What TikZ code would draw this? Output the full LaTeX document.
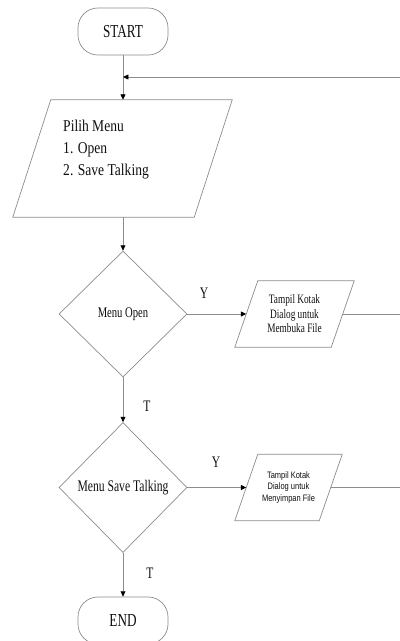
\documentclass[tikz,border=0pt]{standalone}
\usepackage{fontspec}
\setmainfont{Liberation Serif}
\newfontfamily\serN[FakeStretch=0.72]{Liberation Serif}
\newfontfamily\serW[FakeStretch=0.82]{Liberation Serif}
\newfontfamily\sanN[FakeStretch=0.8]{Liberation Sans}
\usetikzlibrary{shapes.geometric,arrows.meta,calc}

\definecolor{linegray}{RGB}{140,140,140}
\definecolor{inkdark}{RGB}{15,15,15}

% outline of a slanted input/output box around a plain rectangle node
\newcommand\slantbox[2]{%
  \draw[line] ($(#1.north west)+(#2,0)$) -- ($(#1.north east)+(#2,0)$)
    -- ($(#1.south east)-(#2,0)$) -- ($(#1.south west)-(#2,0)$) -- cycle;}

\begin{document}
\begin{tikzpicture}[x=0.03cm,y=-0.03cm,
  line/.style={draw=linegray,line width=0.6pt},
  arr/.style={line,-{Triangle[length=4.6pt,width=4.2pt,color=black]}},
  terminal/.style={rectangle,draw=linegray,line width=0.6pt,rounded corners=17pt,
    minimum width=2.7cm,minimum height=1.41cm,text=inkdark,
    font=\serN\fontsize{15.6pt}{18pt}\selectfont},
  decision/.style={diamond,draw=linegray,line width=0.6pt,inner sep=0pt,
    minimum width=3.84cm,text=inkdark},
  frame/.style={rectangle,inner sep=0pt,align=center,text=inkdark},
  lbl/.style={inner sep=0pt,text=inkdark,font=\serN\fontsize{13.7pt}{16pt}\selectfont}]

\useasboundingbox (0,0) rectangle (400,641);
\clip (0,0) rectangle (400,641);

% shapes
\node[terminal] (start) at (123,31.5) {START};

\node[frame,minimum width=5.43cm,minimum height=3.51cm] (menu) at (122.5,158.5) {};
\slantbox{menu}{19}
\node[inner sep=0pt,anchor=west,align=left,text=inkdark,
  font=\serW\fontsize{14.1pt}{18.8pt}\selectfont] (menutext) at (63,150)
  {Pilih Menu\\1. Open\\2. Save Talking};

\node[decision,minimum height=3.78cm,
  font=\serN\fontsize{12.6pt}{14pt}\selectfont] (dOpen) at (123,314) {Menu Open};

\node[frame,minimum width=2.88cm,minimum height=1.98cm,
  font=\serN\fontsize{11pt}{12.4pt}\selectfont] (pOpen) at (294.5,314)
  {Tampil Kotak\\Dialog untuk\\Membuka File};
\slantbox{pOpen}{11.5}

\node[decision,minimum height=3.9cm,
  font=\serN\fontsize{13.8pt}{16pt}\selectfont] (dSave) at (123,487.5) {Menu Save Talking};

\node[frame,minimum width=2.52cm,minimum height=1.98cm,
  font=\sanN\fontsize{8pt}{10pt}\selectfont] (pSave) at (288.5,487.5)
  {Tampil Kotak\\Dialog untuk\\Menyimpan File};
\slantbox{pSave}{11.5}

\node[terminal] (end) at (123,620.5) {END};

% branch labels
\node[lbl] (yOpen) at (204,293) {Y};
\node[lbl] (tOpen) at (147,406) {T};
\node[lbl] (ySave) at (216,462) {Y};
\node[lbl] (tSave) at (150,573) {T};

% connectors
\coordinate (fbR) at (400,77);
\coordinate (join) at (start.south |- fbR);
\coordinate (rOpen) at (pOpen.east -| fbR);
\coordinate (rSave) at (pSave.east -| fbR);

\draw[arr] (start) -- (start.south |- menu.north);
\draw[arr] (fbR) -- (join);
\draw[arr] (dOpen.north |- menu.south) -- (dOpen);
\draw[arr] (dOpen) -- (pOpen);
\draw[line] (pOpen.east) -- (rOpen);
\draw[arr] (dOpen) -- (dSave);
\draw[arr] (dSave) -- (pSave);
\draw[line] (pSave.east) -- (rSave);
\draw[arr] (dSave) -- (end);

\end{tikzpicture}
\end{document}
